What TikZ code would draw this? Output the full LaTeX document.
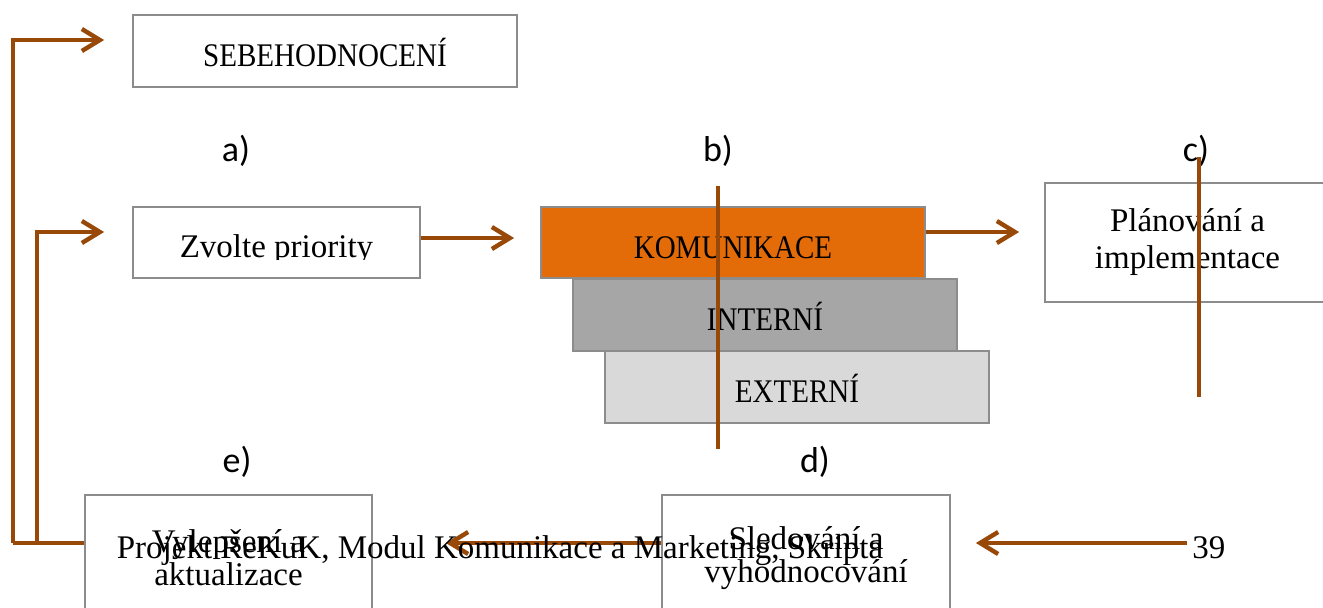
\documentclass[tikz,border=0pt]{standalone}
\usepackage{fontspec}
\setmainfont{Liberation Serif}
\newfontfamily\labelfont{Carlito}
\usetikzlibrary{arrows.meta}

\definecolor{flowbrown}{HTML}{984807}
\definecolor{komuorange}{HTML}{E36C09}
\definecolor{boxgray}{HTML}{8C8C8C}

\newcommand{\capsword}[1]{\scalebox{0.88}[1]{#1}}

\tikzset{
  plainbox/.style={draw=boxgray, line width=0.9pt, fill=white, inner sep=0pt, align=center},
  onebox/.style={plainbox, text height=15.5pt, text depth=0pt},
  steplabel/.style={font=\labelfont\fontsize{18}{20}\selectfont},
  flow/.style={draw=flowbrown, line width=2.2pt, -{Straight Barb[length=9pt,width=11pt]}},
  barline/.style={draw=flowbrown, line width=2.2pt},
}

\begin{document}
\begin{tikzpicture}[x=0.5pt, y=-0.5pt, font=\fontsize{16.5}{18.5}\selectfont]
    % page
    \useasboundingbox (0,0) rectangle (1323,607);
    \fill[white] (0,0) rectangle (1323,607);
    \clip (0,0) rectangle (1323,607);

    % boxes
    \node[onebox, minimum width=192pt, minimum height=36pt] (sebe) at (325,51) {\capsword{SEBEHODNOCENÍ}};
    \node[plainbox, minimum width=143.5pt, minimum height=35.5pt] (prior) at (276.5,242.5) {};
    \node[onebox, fill=komuorange, minimum width=192pt, minimum height=35.5pt] (komu) at (733,242.5) {\capsword{KOMUNIKACE}};
    \node[onebox, fill=black!35, minimum width=192pt, minimum height=36pt] (intern) at (765,315) {\capsword{INTERNÍ}};
    \node[onebox, fill=black!15, minimum width=192pt, minimum height=36pt] (extern) at (797,387) {\capsword{EXTERNÍ}};
    \node[plainbox, minimum width=142.5pt, minimum height=59.5pt] (plan) at (1187.5,242.5) {Plánování a\\implementace};
    \node[plainbox, minimum width=143.5pt, minimum height=63pt, font=\fontsize{16.5}{16.5}\selectfont] (vylep) at (228.5,558) {Vylepšení a\\aktualizace};
    \node[plainbox, minimum width=144pt, minimum height=63pt, font=\fontsize{16.5}{16.5}\selectfont] (sled) at (806,558) {Sledování a\\vyhodnocování};

    % clipped text of the first step
    \begin{scope}
        \clip (133,207) rectangle (420,259);
        \node[anchor=base] (priortxt) at (276.5,257) {Zvolte priority};
    \end{scope}

    % step labels
    \node[steplabel] (laba) at (236,151) {a)};
    \node[steplabel] (labb) at (718,151) {b)};
    \node[steplabel] (labc) at (1196,151) {c)};
    \node[steplabel] (labd) at (815,462) {d)};
    \node[steplabel] (labe) at (237,462) {e)};

    % connectors
    \coordinate (outerc) at (13,543);
    \coordinate (innerc) at (37,543);
    \coordinate (rightc) at (1187,543);
    \draw[barline] ([yshift=7.5pt]vylep.west) -- (outerc);
    \draw[flow] (outerc) |- ([xshift=-14pt,yshift=5.5pt]sebe.west);
    \draw[flow] (innerc) |- ([xshift=-14pt,yshift=5.25pt]prior.west);
    \draw[flow, shorten >=13pt] ([yshift=2.25pt]prior.east) -- ([yshift=2.25pt]komu.west);
    \draw[flow, shorten >=12.5pt] ([yshift=5.25pt]komu.east) -- ([yshift=5.25pt]plan.west);
    \draw[flow, shorten >=36.5pt] ([yshift=7.5pt]sled.west) -- ([yshift=7.5pt]vylep.east);
    \draw[flow, shorten >=12.5pt] (rightc) -- (sled.east |- rightc);

    % vertical strokes
    \draw[barline] (718,186) -- (718,449);
    \draw[barline] (1199,157) -- (1199,397);

    % footer
    \node[anchor=base] (foot) at (500,558) {Projekt ReKuK, Modul Komunikace a Marketing, Skripta};
    \node[anchor=base west, inner sep=0pt] (pageno) at (1192,558) {39};
\end{tikzpicture}
\end{document}
